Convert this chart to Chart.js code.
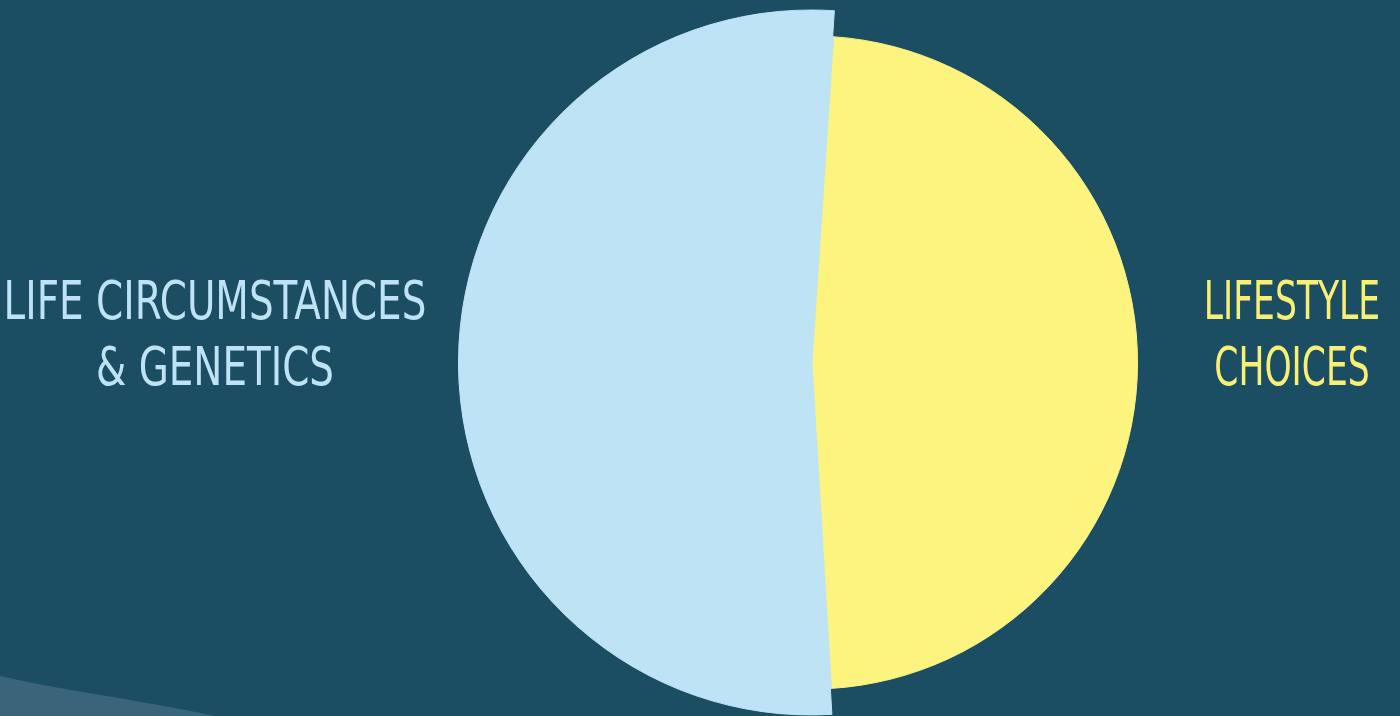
<!DOCTYPE html>
<html>
<head>
<meta charset="utf-8">
<script src="https://cdn.jsdelivr.net/npm/chart.js@4"></script>
<style>
  html, body { margin: 0; padding: 0; background: #1b4d63; overflow: hidden; }
  #wrap { position: relative; width: 1400px; height: 716px; overflow: hidden; }
  #wave { position: absolute; left: 0; top: 0; }
  #pie { position: absolute; left: 0; top: 0; }
  .lbl {
    position: absolute;
    font-family: 'DejaVu Sans', sans-serif;
    font-size: 54px;
    line-height: 66px;
    text-align: center;
    white-space: nowrap;
    transform-origin: 50% 50%;
  }
</style>
</head>
<body>
<div id="wrap">
  <svg id="wave" width="1400" height="716">
    <path d="M0,676 C60,690 140,700 215,716 L0,716 Z" fill="#3a6479"/>
  </svg>
  <canvas id="pie" width="1400" height="716"></canvas>
</div>
<script>
// ---- data ----
const categories = ['Lifestyle Choices', 'Life Circumstances & Genetics'];
const shares = [48, 52];
const labelLines = [['LIFESTYLE', 'CHOICES'], ['LIFE CIRCUMSTANCES', '& GENETICS']];

// ---- style ----
const sliceColors = ['#fdf37f', '#bde3f4'];
const labelColors = ['#f9ef74', '#bde3f4'];
// label boxes: centre x, top, squeeze factor for the narrow lettering
const labelBoxes = [
  { cx: 1292, top: 268, squeeze: 0.64 },
  { cx: 215, top: 268, squeeze: 0.72 }
];
const BOX_W = 700;

// blue slice sticks out past the yellow one: outer ring only paints blue
const ringColors = sliceColors.map((c, i) => i === 1 ? c : 'rgba(0,0,0,0)');

new Chart(document.getElementById('pie'), {
  type: 'pie',
  data: {
    labels: categories,
    datasets: [
      {
        data: shares,
        backgroundColor: ringColors,
        borderColor: ringColors,
        borderWidth: 1,
        weight: 26
      },
      {
        data: shares,
        backgroundColor: sliceColors,
        borderColor: sliceColors,
        borderWidth: [1, 3],   // thicker blue edge hides the seam under the outer ring
        weight: 327
      }
    ]
  },
  options: {
    responsive: false,
    animation: false,
    rotation: 3.8,
    layout: { padding: { left: 458, right: 236, top: 9, bottom: 0 } },
    plugins: {
      legend: { display: false },
      tooltip: { enabled: false }
    },
    events: []
  }
});

// category labels either side of the pie
const wrap = document.getElementById('wrap');
categories.forEach((name, i) => {
  const box = labelBoxes[i];
  const el = document.createElement('div');
  el.className = 'lbl';
  el.style.color = labelColors[i];
  el.style.left = (box.cx - BOX_W / 2) + 'px';
  el.style.top = box.top + 'px';
  el.style.width = BOX_W + 'px';
  el.style.transform = 'scaleX(' + box.squeeze + ')';
  el.innerHTML = labelLines[i].join('<br>');
  wrap.appendChild(el);
});
</script>
</body>
</html>
